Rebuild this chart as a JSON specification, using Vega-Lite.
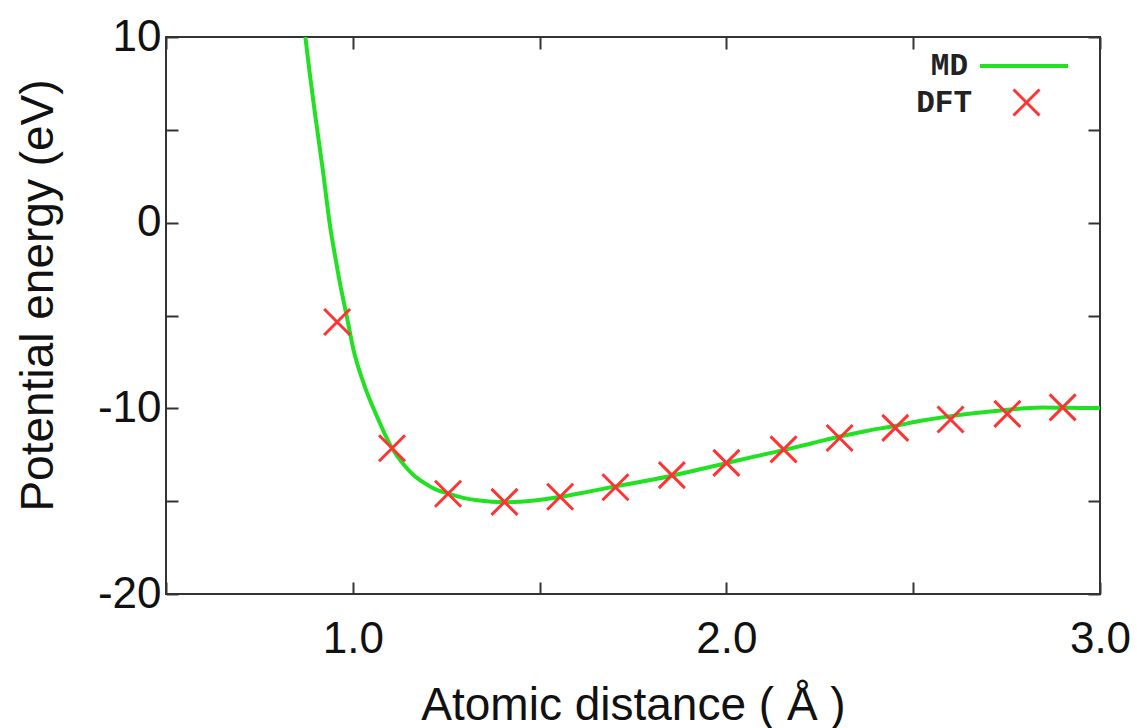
{
  "$schema": "https://vega.github.io/schema/vega-lite/v6.json",
  "width": 934,
  "height": 557,
  "autosize": {"type": "none"},
  "padding": {"left": 166, "top": 37, "right": 37, "bottom": 134},
  "background": "white",
  "config": {
    "view": {"stroke": "#333333", "strokeWidth": 2},
    "font": "Liberation Sans"
  },
  "datasets": {
    "md": [
      {"x": 0.873, "y": 10, "series": "MD"},
      {"x": 0.885, "y": 8.0, "series": "MD"},
      {"x": 0.9, "y": 5.7, "series": "MD"},
      {"x": 0.92, "y": 2.8, "series": "MD"},
      {"x": 0.94, "y": -0.3, "series": "MD"},
      {"x": 0.95, "y": -1.5, "series": "MD"},
      {"x": 0.966, "y": -3.3, "series": "MD"},
      {"x": 0.984, "y": -5.06, "series": "MD"},
      {"x": 1.002, "y": -6.86, "series": "MD"},
      {"x": 1.029, "y": -8.65, "series": "MD"},
      {"x": 1.065, "y": -10.45, "series": "MD"},
      {"x": 1.105, "y": -12.15, "series": "MD"},
      {"x": 1.135, "y": -13.0, "series": "MD"},
      {"x": 1.163, "y": -13.6, "series": "MD"},
      {"x": 1.19, "y": -14.0, "series": "MD"},
      {"x": 1.22, "y": -14.35, "series": "MD"},
      {"x": 1.257, "y": -14.6, "series": "MD"},
      {"x": 1.295, "y": -14.82, "series": "MD"},
      {"x": 1.333, "y": -14.95, "series": "MD"},
      {"x": 1.409, "y": -15.06, "series": "MD"},
      {"x": 1.485, "y": -14.97, "series": "MD"},
      {"x": 1.552, "y": -14.78, "series": "MD"},
      {"x": 1.628, "y": -14.5, "series": "MD"},
      {"x": 1.704, "y": -14.2, "series": "MD"},
      {"x": 1.786, "y": -13.9, "series": "MD"},
      {"x": 1.86, "y": -13.6, "series": "MD"},
      {"x": 1.93, "y": -13.28, "series": "MD"},
      {"x": 2.0, "y": -12.95, "series": "MD"},
      {"x": 2.075, "y": -12.6, "series": "MD"},
      {"x": 2.153, "y": -12.25, "series": "MD"},
      {"x": 2.23, "y": -11.88, "series": "MD"},
      {"x": 2.303, "y": -11.52, "series": "MD"},
      {"x": 2.375, "y": -11.22, "series": "MD"},
      {"x": 2.45, "y": -10.95, "series": "MD"},
      {"x": 2.525, "y": -10.66, "series": "MD"},
      {"x": 2.6, "y": -10.42, "series": "MD"},
      {"x": 2.68, "y": -10.22, "series": "MD"},
      {"x": 2.753, "y": -10.08, "series": "MD"},
      {"x": 2.8, "y": -9.99, "series": "MD"},
      {"x": 2.85, "y": -9.96, "series": "MD"},
      {"x": 2.9, "y": -9.97, "series": "MD"},
      {"x": 2.95, "y": -9.98, "series": "MD"},
      {"x": 3.0, "y": -9.98, "series": "MD"}
    ],
    "dft": [
      {"x": 0.958, "y": -5.35, "series": "DFT"},
      {"x": 1.105, "y": -12.15, "series": "DFT"},
      {"x": 1.255, "y": -14.6, "series": "DFT"},
      {"x": 1.406, "y": -15.04, "series": "DFT"},
      {"x": 1.555, "y": -14.76, "series": "DFT"},
      {"x": 1.703, "y": -14.25, "series": "DFT"},
      {"x": 1.854, "y": -13.6, "series": "DFT"},
      {"x": 2.0, "y": -12.94, "series": "DFT"},
      {"x": 2.153, "y": -12.21, "series": "DFT"},
      {"x": 2.303, "y": -11.6, "series": "DFT"},
      {"x": 2.452, "y": -11.05, "series": "DFT"},
      {"x": 2.6, "y": -10.6, "series": "DFT"},
      {"x": 2.752, "y": -10.3, "series": "DFT"},
      {"x": 2.9, "y": -9.95, "series": "DFT"}
    ]
  },
  "layer": [
    {
      "data": {"name": "md"},
      "mark": {"type": "line", "strokeWidth": 4, "clip": true, "interpolate": "monotone"},
      "encoding": {
        "x": {
          "field": "x", "type": "quantitative",
          "scale": {"domain": [0.5, 3], "nice": false, "zero": false},
          "axis": {
            "orient": "bottom",
            "values": [0.5, 1, 1.5, 2, 2.5, 3],
            "labelExpr": "datum.value >= 1 && datum.value % 1 == 0 ? format(datum.value, '.1f') : ''",
            "domain": false, "grid": false,
            "tickSize": -12, "tickWidth": 2, "tickColor": "#333333",
            "labelFontSize": 44, "labelColor": "#111111", "labelPadding": 35,
            "labelFlush": false, "labelOverlap": false,
            "title": "Atomic distance ( Å )",
            "titleFontSize": 46, "titleFontWeight": "normal", "titleColor": "#111111",
            "titleBaseline": "alphabetic", "titleY": 125
          }
        },
        "y": {
          "field": "y", "type": "quantitative",
          "scale": {"domain": [-20, 10], "nice": false, "zero": false},
          "axis": {
            "orient": "left",
            "values": [-20, -15, -10, -5, 0, 5, 10],
            "labelExpr": "datum.value % 10 == 0 ? '' + datum.value : ''",
            "domain": false, "grid": false,
            "tickSize": -12, "tickWidth": 2, "tickColor": "#333333",
            "labelFontSize": 44, "labelColor": "#111111", "labelPadding": 17,
            "labelOverlap": false, "labelFlush": false,
            "title": "Potential energy (eV)",
            "titleFontSize": 46, "titleFontWeight": "normal", "titleColor": "#111111",
            "titleAngle": -90, "titleAlign": "center", "titleBaseline": "alphabetic",
            "titleX": -114, "titleY": 258
          }
        },
        "stroke": {
          "field": "series", "type": "nominal",
          "scale": {"domain": ["MD"], "range": ["#22e022"]},
          "legend": {
            "orient": "none", "legendX": 812, "legendY": -17,
            "title": null, "padding": 0,
            "symbolType": "stroke", "symbolSize": 7744, "symbolStrokeWidth": 4,
            "labelFont": "Liberation Mono", "labelFontSize": 31, "labelFontWeight": "bold",
            "labelColor": "#222222", "labelAlign": "right", "labelOffset": -102
          }
        }
      }
    },
    {
      "data": {"name": "dft"},
      "mark": {"type": "point", "filled": false, "strokeWidth": 3, "color": "#ff3333", "size": 676, "opacity": 1},
      "encoding": {
        "x": {
          "field": "x", "type": "quantitative",
          "axis": {
            "orient": "top", "values": [0.5, 1, 1.5, 2, 2.5, 3],
            "labels": false, "domain": false, "grid": false, "title": null,
            "tickSize": -12, "tickWidth": 2, "tickColor": "#333333"
          }
        },
        "y": {
          "field": "y", "type": "quantitative",
          "axis": {
            "orient": "right", "values": [-20, -15, -10, -5, 0, 5, 10],
            "labels": false, "domain": false, "grid": false, "title": null,
            "tickSize": -12, "tickWidth": 2, "tickColor": "#333333"
          }
        },
        "shape": {
          "field": "series", "type": "nominal",
          "scale": {"domain": ["DFT"], "range": ["M-1,-1L1,1M-1,1L1,-1"]},
          "legend": {
            "orient": "none", "legendX": 845, "legendY": 50,
            "title": null, "padding": 0,
            "symbolSize": 676, "symbolStrokeWidth": 3, "symbolStrokeColor": "#ff3333",
            "symbolFillColor": "transparent",
            "labelFont": "Liberation Mono", "labelFontSize": 31, "labelFontWeight": "bold",
            "labelColor": "#222222", "labelAlign": "right", "labelOffset": -70
          }
        }
      }
    }
  ],
  "resolve": {"axis": {"x": "independent", "y": "independent"}}
}
